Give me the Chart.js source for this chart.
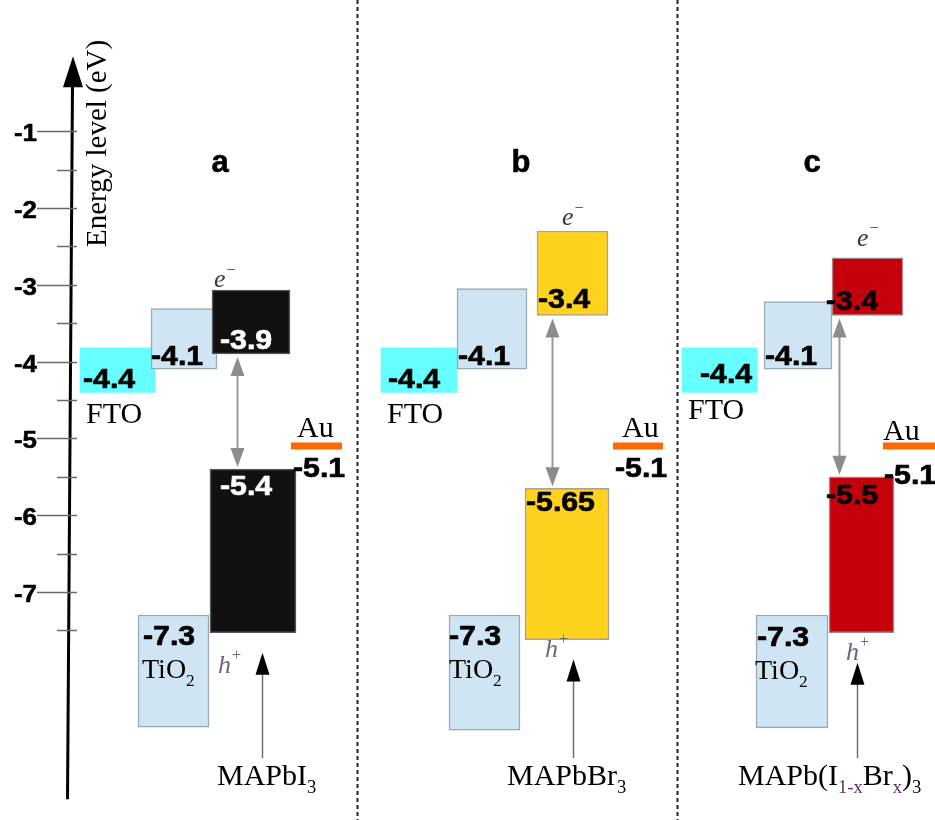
<!DOCTYPE html>
<html>
<head>
<meta charset="utf-8">
<title>Energy level diagram</title>
<script src="https://cdn.jsdelivr.net/npm/chart.js@4/dist/chart.umd.min.js"></script>
<style>
  html, body { margin: 0; padding: 0; background: #ffffff; }
  canvas { display: block; }
</style>
</head>
<body>
<canvas id="diagram" width="935" height="820"></canvas>
<script>
// ---------------- data (energies in eV) ----------------
const panelLetters = ['a', 'b', 'c'];
const perovskiteNames = ['MAPbI_{3}', 'MAPbBr_{3}', 'MAPb(I_<1-x>Br_<x>)_{3}'];
const energyTicks = [-1, -2, -3, -4, -5, -6, -7];
const minorTicks = [-1.5, -2.5, -3.5, -4.5, -5.5, -6.5, -7.5];

const ftoLevel     = [-4.4, -4.4, -4.4];
const tio2CbLevel  = [-4.1, -4.1, -4.1];
const tio2VbLevel  = [-7.3, -7.3, -7.3];
const perovCbLevel = [-3.9, -3.4, -3.4];
const perovVbLevel = [-5.4, -5.65, -5.5];
const auLevel      = [-5.1, -5.1, -5.1];

// opposite edge of each band box
const ftoEdge      = [-3.82, -3.82, -3.82];
const tio2CbEdge   = [-3.31, -3.05, -3.22];
const perovCbEdge  = [-3.07, -2.30, -2.65];
const perovVbEdge  = [-7.53, -7.62, -7.53];
const tio2VbEdge   = [-8.76, -8.80, -8.77];

// ---------------- layout & style ----------------
const SANS = '"Liberation Sans", Arial, sans-serif';
const SERIF = '"Liberation Serif", "Times New Roman", serif';
const X_RANGE = [0, 935];           // horizontal layout units
const Y_RANGE = [-9.969, 0.708];    // energy axis range

const boxes = {
  fto:     { x: [117.5, 419, 719.5], w: [75, 76, 75] },
  tio2Cb:  { x: [184, 492, 798],     w: [66, 70, 68] },
  perovCb: { x: [251, 572.5, 867.5], w: [78, 71, 71] },
  perovVb: { x: [253, 567, 861.5],   w: [86, 84, 65] },
  tio2Vb:  { x: [173.5, 484.5, 792], w: [71, 71, 72] }
};
const auSpan = { x0: [291, 613, 883], x1: [342, 663, 935] };

const colors = {
  fto: '#66FFFF',
  tio2: '#CFE5F3',
  tio2Border: '#98A9B6',
  perov: ['#111111', '#FFD21E', '#C3000B'],
  perovBorder: ['#555555', '#A8A296', '#A58484'],
  au: '#FF6A00',
  hole: '#6C6480',
  accent: '#5B2F66'
};

const labelPos = {
  ftoVal:     { x: [83, 388, 700],  dy: [-4, -4, -9] },
  ftoName:    { x: [86, 387, 688],  dy: [31, 31, 27] },
  tio2CbVal:  { x: [151, 458, 765], dy: [-4, -4, -4] },
  perovCbVal: { x: [220, 538, 826], dy: [-5, -7, -5] },
  perovVbVal: { x: [220, 526, 826], dy: [26, 23, 27] },
  tio2VbVal:  { x: [143, 449, 757], dy: [30, 30, 31] },
  tio2Name:   { x: [142, 449, 755], dy: [63, 63, 64] },
  electron:   { x: [214, 562, 857], dy: [-3, -6, -12] },
  hole:       { x: [218, 545, 846], dy: [40, 17, 27] },
  auName:     { x: [297, 622, 883], dy: [-9, -9, -6] },
  auVal:      { x: [293, 615, 884], dy: [31, 31, 38] },
  gapArrowX:  [237, 552, 839],
  upArrowX:   [262, 573, 857],
  upArrowDy:  [20, 20, 30],
  nameX:      [217, 507, 738],
  letterX:    [220, 521, 812]
};

// ---------------- datasets ----------------
const datasets = [];
function addBox(kind, i, level, edge, fill, border, bw) {
  datasets.push({
    type: 'bar',
    label: kind + ' (' + panelLetters[i] + ')',
    data: [{ x: boxes[kind].x[i], y: [level, edge] }],
    backgroundColor: fill,
    borderColor: border,
    borderWidth: bw,
    borderSkipped: false,
    barThickness: boxes[kind].w[i],
    grouped: false
  });
}
for (let i = 0; i < 3; i++) {
  datasets.push({
    type: 'line',
    label: 'Au (' + panelLetters[i] + ')',
    data: [{ x: auSpan.x0[i], y: auLevel[i] }, { x: auSpan.x1[i], y: auLevel[i] }],
    borderColor: colors.au,
    borderWidth: 7,
    borderCapStyle: 'butt',
    pointRadius: 0,
    fill: false
  });
}
for (let i = 0; i < 3; i++) {
  addBox('perovCb', i, perovCbLevel[i], perovCbEdge[i], colors.perov[i], colors.perovBorder[i], 1.5);
  addBox('perovVb', i, perovVbLevel[i], perovVbEdge[i], colors.perov[i], colors.perovBorder[i], 1.5);
  addBox('tio2Cb', i, tio2CbLevel[i], tio2CbEdge[i], colors.tio2, colors.tio2Border, 1.5);
  addBox('tio2Vb', i, tio2VbLevel[i], tio2VbEdge[i], colors.tio2, colors.tio2Border, 1.5);
  addBox('fto', i, ftoLevel[i], ftoEdge[i], colors.fto, colors.fto, 0);
}

// ---------------- drawing helpers ----------------
function text(ctx, str, x, y, font, color, align, sx, weight) {
  sx = sx || 1;
  ctx.save();
  ctx.font = font;
  ctx.fillStyle = color;
  ctx.textBaseline = 'alphabetic';
  ctx.textAlign = 'left';
  const w = ctx.measureText(str).width * sx;
  let left = x;
  if (align === 'center') left = x - w / 2;
  else if (align === 'right') left = x - w;
  ctx.translate(left, y);
  ctx.scale(sx, 1);
  ctx.fillText(str, 0, 0);
  if (weight) {
    // a thin outline in the fill colour thickens the bold digits
    ctx.strokeStyle = color;
    ctx.lineWidth = weight;
    ctx.lineJoin = 'round';
    ctx.strokeText(str, 0, 0);
  }
  ctx.restore();
}

function richText(ctx, markup, x, y, size, color) {
  const re = /_\{([^}]*)\}|_<([^>]*)>|([^_]+)/g;
  let m, cx = x;
  ctx.save();
  ctx.textBaseline = 'alphabetic';
  ctx.textAlign = 'left';
  while ((m = re.exec(markup))) {
    let str, fs = size, dy = 0, col = color;
    if (m[1] !== undefined) { str = m[1]; fs = size * 0.62; dy = size * 0.27; }
    else if (m[2] !== undefined) { str = m[2]; fs = size * 0.62; dy = size * 0.27; col = colors.accent; }
    else { str = m[3]; }
    ctx.font = fs + 'px ' + SERIF;
    ctx.fillStyle = col;
    ctx.fillText(str, cx, y + dy);
    cx += ctx.measureText(str).width;
  }
  ctx.restore();
}

function superText(ctx, base, sup, x, y, size, color) {
  ctx.save();
  ctx.textBaseline = 'alphabetic';
  ctx.textAlign = 'left';
  ctx.fillStyle = color;
  ctx.font = 'italic ' + size + 'px ' + SERIF;
  ctx.fillText(base, x, y);
  const w = ctx.measureText(base).width;
  ctx.font = (size * 0.62) + 'px ' + SERIF;
  ctx.fillText(sup, x + w + 1, y - size * 0.48);
  ctx.restore();
}

function head(ctx, x, tipY, dir, len, halfW, color) {
  // dir = -1 points up, +1 points down
  ctx.beginPath();
  ctx.moveTo(x, tipY);
  ctx.lineTo(x - halfW, tipY - dir * len);
  ctx.lineTo(x + halfW, tipY - dir * len);
  ctx.closePath();
  ctx.fillStyle = color;
  ctx.fill();
}

// ---------------- annotation plugin ----------------
const energyDiagram = {
  id: 'energyDiagram',
  beforeDatasetsDraw(chart) {
    const ctx = chart.ctx;
    const xs = chart.scales.x;
    const area = chart.chartArea;
    ctx.save();
    ctx.strokeStyle = '#222222';
    ctx.lineWidth = 2;
    ctx.setLineDash([4, 3]);
    [357, 677].forEach(u => {
      const px = Math.round(xs.getPixelForValue(u)) + 0.5;
      ctx.beginPath();
      ctx.moveTo(px, area.top);
      ctx.lineTo(px, area.bottom);
      ctx.stroke();
    });
    ctx.restore();
  },
  afterDatasetsDraw(chart) {
    const ctx = chart.ctx;
    const xs = chart.scales.x, ys = chart.scales.y;
    const X = u => xs.getPixelForValue(u);
    const Y = v => ys.getPixelForValue(v);
    const bold = s => 'bold ' + s + 'px ' + SANS;
    const W = 0.7;

    // energy axis (slightly leaning arrow)
    const yTip = Y(0) + 2, yBottom = Y(-9.7);
    const xTop = X(73), xBottom = X(67.5);
    ctx.save();
    ctx.strokeStyle = '#000';
    ctx.lineWidth = 3;
    ctx.beginPath();
    ctx.moveTo(xBottom, yBottom);
    ctx.lineTo(xTop - 0.5, yTip + 28);
    ctx.stroke();
    head(ctx, xTop, yTip, -1, 31, 10, '#000');

    // ticks
    ctx.lineWidth = 1.5;
    ctx.strokeStyle = '#6a6a6a';
    energyTicks.forEach(v => {
      const py = Math.round(Y(v)) + 0.5;
      ctx.beginPath(); ctx.moveTo(X(37), py); ctx.lineTo(X(77), py); ctx.stroke();
      text(ctx, String(v), X(37), py + 9, bold(24), '#000', 'right', 1.08, 0.5);
    });
    minorTicks.forEach(v => {
      const py = Math.round(Y(v)) + 0.5;
      ctx.beginPath(); ctx.moveTo(X(57), py); ctx.lineTo(X(77), py); ctx.stroke();
    });
    ctx.restore();

    // axis title
    ctx.save();
    ctx.translate(X(106), 247);
    ctx.rotate(-Math.PI / 2);
    ctx.font = '29px ' + SERIF;
    ctx.fillStyle = '#000';
    ctx.textAlign = 'left';
    ctx.textBaseline = 'alphabetic';
    ctx.fillText('Energy level (eV)', 0, 0);
    ctx.restore();

    for (let i = 0; i < 3; i++) {
      // panel letters
      text(ctx, panelLetters[i], X(labelPos.letterX[i]), 172, bold(31), '#000', 'center', 1, 0.6);

      // FTO
      text(ctx, String(ftoLevel[i]), X(labelPos.ftoVal.x[i]), Y(ftoLevel[i]) + labelPos.ftoVal.dy[i], bold(28), '#000', 'left', 1.08, W);
      text(ctx, 'FTO', X(labelPos.ftoName.x[i]), Y(ftoLevel[i]) + labelPos.ftoName.dy[i], '30px ' + SERIF, '#000', 'left');

      // TiO2 conduction / valence band
      text(ctx, String(tio2CbLevel[i]), X(labelPos.tio2CbVal.x[i]), Y(tio2CbLevel[i]) + labelPos.tio2CbVal.dy[i], bold(28), '#000', 'left', 1.08, W);
      text(ctx, String(tio2VbLevel[i]), X(labelPos.tio2VbVal.x[i]), Y(tio2VbLevel[i]) + labelPos.tio2VbVal.dy[i], bold(28), '#000', 'left', 1.08, W);
      richText(ctx, 'TiO_{2}', X(labelPos.tio2Name.x[i]), Y(tio2VbLevel[i]) + labelPos.tio2Name.dy[i], 28, '#000');

      // perovskite band edges
      const onDark = i === 0 ? '#ffffff' : '#000000';
      text(ctx, String(perovCbLevel[i]), X(labelPos.perovCbVal.x[i]), Y(perovCbLevel[i]) + labelPos.perovCbVal.dy[i], bold(28), onDark, 'left', 1.08, W);
      text(ctx, String(perovVbLevel[i]), X(labelPos.perovVbVal.x[i]), Y(perovVbLevel[i]) + labelPos.perovVbVal.dy[i], bold(28), onDark, 'left', 1.08, W);

      // carriers
      superText(ctx, 'e', '\u2212', X(labelPos.electron.x[i]), Y(perovCbEdge[i]) + labelPos.electron.dy[i], 26, '#3a3a3a');
      superText(ctx, 'h', '+', X(labelPos.hole.x[i]), Y(perovVbEdge[i]) + labelPos.hole.dy[i], 26, colors.hole);

      // Au contact
      text(ctx, 'Au', X(labelPos.auName.x[i]), Y(auLevel[i]) + labelPos.auName.dy[i], '30px ' + SERIF, '#000', 'left');
      text(ctx, String(auLevel[i]), X(labelPos.auVal.x[i]), Y(auLevel[i]) + labelPos.auVal.dy[i], bold(28), '#000', 'left', 1.08, W);

      // band gap double arrow
      const gx = Math.round(X(labelPos.gapArrowX[i])) + 0.5;
      const gTop = Y(perovCbLevel[i]) + 3, gBot = Y(perovVbLevel[i]) - 2;
      ctx.save();
      ctx.strokeStyle = '#9a9a9a';
      ctx.lineWidth = 2;
      ctx.beginPath(); ctx.moveTo(gx, gTop + 16); ctx.lineTo(gx, gBot - 16); ctx.stroke();
      head(ctx, gx, gTop, -1, 19, 7, '#8c8c8c');
      head(ctx, gx, gBot, 1, 19, 7, '#8c8c8c');
      ctx.restore();

      // pointer from material name
      const ux = Math.round(X(labelPos.upArrowX[i])) + 0.5;
      const uTip = Y(perovVbEdge[i]) + labelPos.upArrowDy[i];
      ctx.save();
      ctx.strokeStyle = '#6e6e6e';
      ctx.lineWidth = 1.5;
      ctx.beginPath(); ctx.moveTo(ux, 758); ctx.lineTo(ux, uTip + 18); ctx.stroke();
      head(ctx, ux, uTip, -1, 22, 7, '#000');
      ctx.restore();

      // material name
      richText(ctx, perovskiteNames[i], X(labelPos.nameX[i]), 785, 30, '#000');
    }
  }
};

// ---------------- chart ----------------
new Chart(document.getElementById('diagram'), {
  type: 'bar',
  data: { datasets },
  options: {
    responsive: false,
    animation: false,
    events: [],
    layout: { padding: 0 },
    plugins: { legend: { display: false }, tooltip: { enabled: false }, title: { display: false } },
    scales: {
      x: { type: 'linear', min: X_RANGE[0], max: X_RANGE[1], offset: false, display: false, grid: { offset: false } },
      y: { type: 'linear', min: Y_RANGE[0], max: Y_RANGE[1], display: false }
    }
  },
  plugins: [energyDiagram]
});
</script>
</body>
</html>
